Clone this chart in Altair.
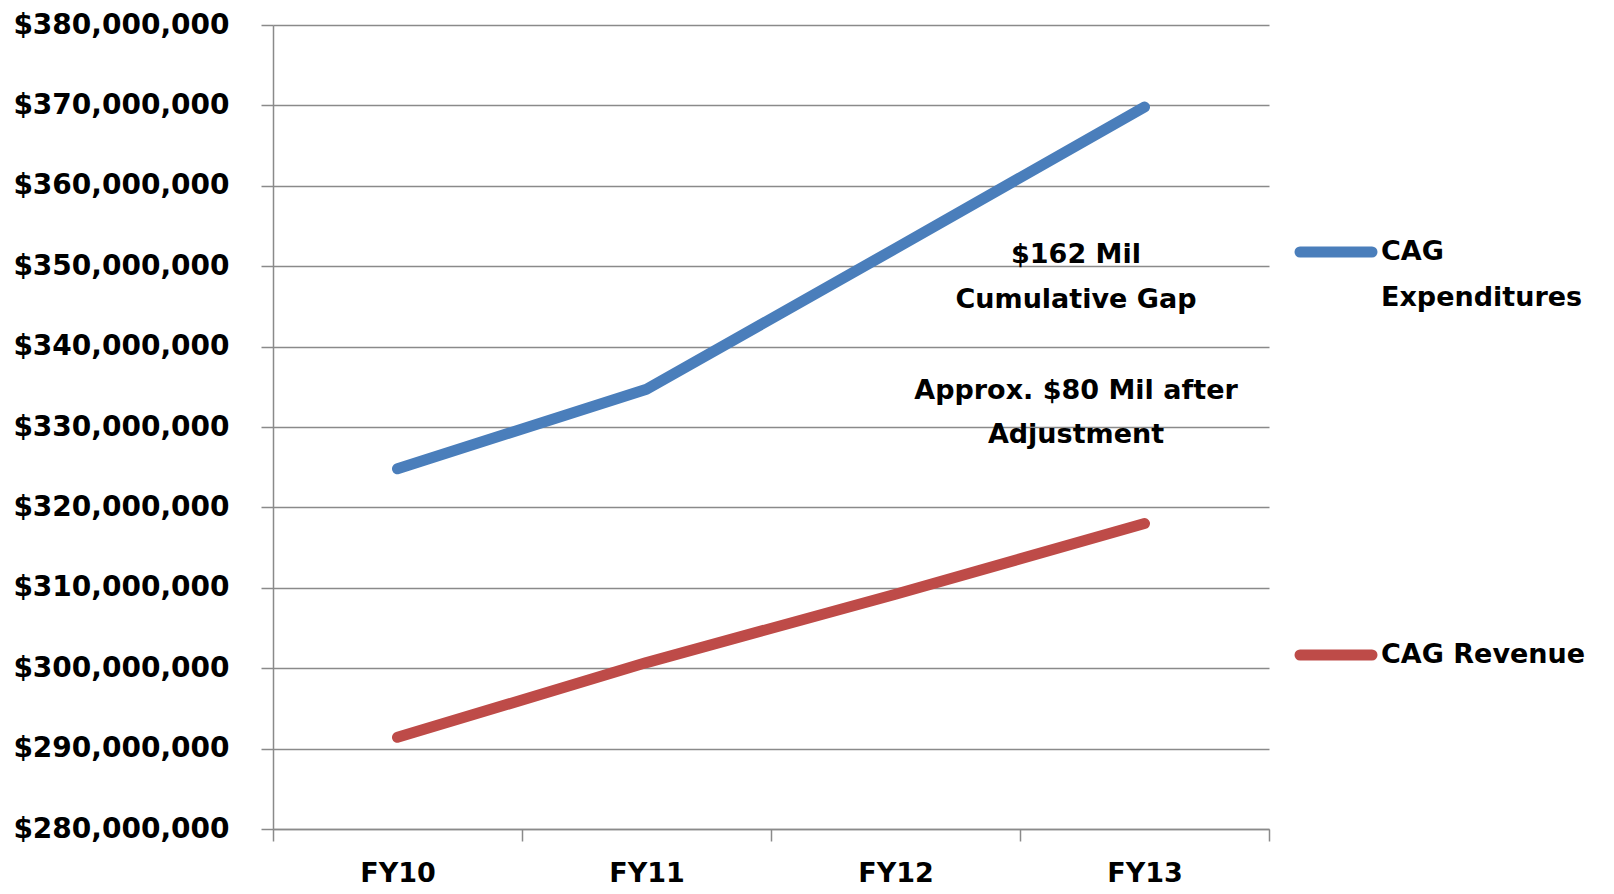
import altair as alt
import pandas as pd

years = ["FY10", "FY11", "FY12", "FY13"]
expenditures = [324_800_000, 334_700_000, 352_200_000, 369_800_000]
revenue = [291_400_000, 300_700_000, 309_200_000, 318_000_000]
series_names = ["CAG Expenditures", "CAG Revenue"]
series_colors = ["#4A7EBB", "#BE4B48"]
y_ticks = list(range(280_000_000, 380_000_001, 10_000_000))

df = pd.DataFrame({
    "year": years * 2,
    "value": expenditures + revenue,
    "series": [series_names[0]] * 4 + [series_names[1]] * 4,
})

FONT = "DejaVu Sans"
GRID = "#8a8a8a"

base = alt.Chart(df)

lines = base.mark_line(strokeWidth=11, strokeCap="round", strokeJoin="round").encode(
    x=alt.X("year:N", sort=years,
            scale=alt.Scale(paddingInner=0, paddingOuter=0),
            axis=alt.Axis(title=None, labelAngle=0, tickBand="extent", grid=False,
                          labelFontSize=27, labelPadding=19, tickSize=12,
                          labelBaseline="top")),
    y=alt.Y("value:Q",
            scale=alt.Scale(domain=[280_000_000, 380_000_000], nice=False, zero=False),
            axis=alt.Axis(title=None, values=y_ticks, format="$,.0f", labelLimit=0,
                          labelFontSize=28, labelPadding=32, tickSize=12)),
    color=alt.Color("series:N", scale=alt.Scale(domain=series_names, range=series_colors),
                    legend=None),
    detail="series:N",
)

one = pd.DataFrame({"k": [0]})

def legend_entry(color, text, y_sym, y_text):
    sym = alt.Chart(one).mark_rule(strokeWidth=11, strokeCap="round", color=color).encode(
        x=alt.value(1027), x2=alt.value(1099), y=alt.value(y_sym))
    lab = alt.Chart(one).mark_text(text=text, align="left", baseline="middle",
                                   font=FONT, fontWeight="bold", fontSize=27,
                                   lineHeight=46, color="black").encode(
        x=alt.value(1108), y=alt.value(y_text))
    return sym + lab

leg1 = legend_entry(series_colors[0], ["CAG", "Expenditures"], 227, 227)
leg2 = legend_entry(series_colors[1], "CAG Revenue", 630, 630)

ann1 = alt.Chart(one).mark_text(text=["$162 Mil", "Cumulative Gap"], align="center",
                                baseline="middle", font=FONT, fontWeight="bold",
                                fontSize=27, lineHeight=45, color="black").encode(
    x=alt.value(803), y=alt.value(230))
ann2 = alt.Chart(one).mark_text(text=["Approx. $80 Mil after", "Adjustment"], align="center",
                                baseline="middle", font=FONT, fontWeight="bold",
                                fontSize=27, lineHeight=44, color="black").encode(
    x=alt.value(803), y=alt.value(366))

chart = alt.layer(lines, ann1, ann2, leg1, leg2).properties(
    width=996, height=804,
    autosize=alt.AutoSizeParams(type="none"),
    padding={"left": 265, "top": 17, "right": 337, "bottom": 57},
    background="white",
).configure_view(stroke=None).configure_axis(
    labelFont=FONT, labelFontWeight="bold", labelColor="black",
    domainColor=GRID, domainWidth=1.5, tickColor=GRID, tickWidth=1.5,
    gridColor=GRID, gridWidth=1.5,
)

chart.save("out.html", embed_options={"renderer": "svg", "actions": False})
